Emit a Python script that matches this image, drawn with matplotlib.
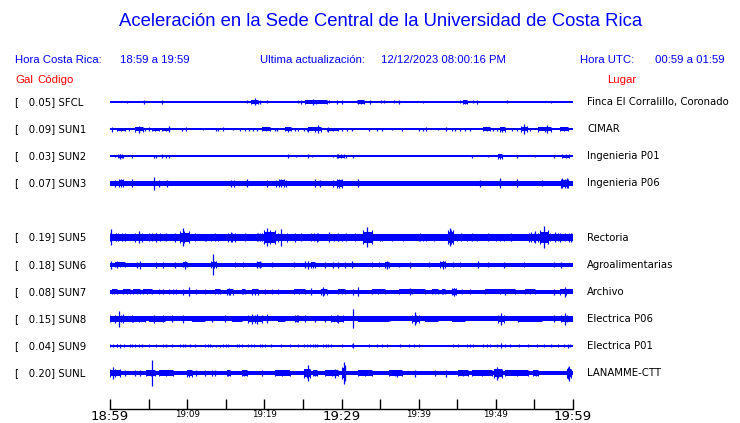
import matplotlib
matplotlib.use("Agg")
import matplotlib.pyplot as plt
from matplotlib.transforms import blended_transform_factory

# estaciones
codes = ["SFCL", "SUN1", "SUN2", "SUN3", "SUN5", "SUN6", "SUN7", "SUN8", "SUN9", "SUNL"]
gal = [0.05, 0.09, 0.03, 0.07, 0.19, 0.18, 0.08, 0.15, 0.04, 0.20]
places = ["Finca El Corralillo, Coronado", "CIMAR", "Ingenieria P01", "Ingenieria P06",
          "Rectoria", "Agroalimentarias", "Archivo", "Electrica P06", "Electrica P01",
          "LANAMME-CTT"]
rows = [0, 1, 2, 3, 5, 6, 7, 8, 9, 10]   # SUN4 no aparece
base = [0.7, 1.0, 0.7, 2.7, 3.4, 2.0, 2.0, 2.5, 0.9, 2.4]

tick_minutes = list(range(0, 61, 5))
tick_labels = ["18:59", "", "19:09", "", "19:19", "", "19:29", "", "19:39", "", "19:49", "", "19:59"]

# (minuto, amplitud) y (inicio, fin, amplitud)
sfcl_spikes = [(2.2, 1), (4.4, 2), (6.8, 2), (17.8, 1.5), (18.8, 3.5), (19.4, 2), (20.3, 1.5),
               (24.4, 1.5), (24.8, 2), (26.3, 3), (28.4, 1.5), (29.4, 2), (30.1, 2), (32.0, 1.5),
               (33.7, 2), (35.1, 1.5), (35.5, 1.5), (36.8, 1.5), (37.4, 2), (40.5, 1), (45.4, 1.5),
               (47.0, 1.5), (47.6, 2), (51.5, 1.5), (57.1, 1)]
sfcl_bursts = [(18.3, 19.2, 2), (25.3, 28.1, 2), (32.2, 32.9, 2), (45.7, 46.2, 2)]

sun1_spikes = [(0.2, 2.5), (2.4, 1.5), (3.7, 3.5), (4.5, 1.5), (5.0, 2), (7.7, 3), (9.3, 1.5),
               (9.8, 2), (12.1, 1), (13.8, 1.5), (14.0, 1.5), (14.6, 2), (15.9, 1), (16.8, 1.5),
               (17.5, 1.5), (18.0, 1.5), (18.5, 1.5), (19.1, 1.5), (21.4, 1.5), (21.7, 1.5),
               (23.1, 2.5), (24.0, 1.5), (24.4, 1.5), (25.1, 1.5), (25.5, 1.5), (27.0, 4),
               (28.2, 2.5), (30.1, 1.5), (30.7, 1.5), (31.3, 1.5), (33.5, 1.5), (34.6, 1.5),
               (35.3, 1.5), (36.5, 1), (37.8, 1.5), (40.0, 1.5), (40.6, 1.5), (41.0, 2), (42.5, 1),
               (43.6, 2), (44.3, 1.5), (44.7, 1.5), (45.4, 1.5), (46.0, 1.5), (46.7, 1.5),
               (49.6, 1.5), (50.2, 1.5), (52.1, 1.5), (52.8, 1.5), (53.6, 5), (54.4, 1.5), (56.6, 4)]
sun1_bursts = [(0.9, 1.9, 1.5), (3.2, 4.3, 2.5), (5.4, 6.3, 1.5), (6.8, 7.6, 1.5), (19.7, 20.7, 2),
               (22.7, 23.5, 2), (25.7, 27.4, 2.5), (28.1, 29.6, 1.5), (48.4, 49.2, 2),
               (50.5, 51.2, 2.5), (53.2, 54.0, 3), (55.5, 57.2, 2.5), (58.3, 59.4, 2)]

sun2_spikes = [(0.6, 1), (1.3, 2.5), (1.7, 1.5), (2.9, 1.5), (5.7, 1.5), (6.0, 1.5), (6.8, 2),
               (7.3, 1.5), (7.6, 1.5), (23.1, 2), (24.1, 1), (25.6, 2), (26.2, 1), (28.9, 1),
               (29.4, 2), (30.6, 1.5), (31.5, 1.5), (46.9, 1.5), (49.0, 1), (52.8, 1.5),
               (55.1, 1), (57.5, 1.5)]
sun2_bursts = [(1.1, 1.5, 2), (29.6, 30.3, 2), (50.3, 50.8, 2.5), (58.6, 59.5, 2)]

sun3_spikes = [(0.7, 3.5), (2.9, 4), (5.7, 6.5), (6.4, 3.5), (7.4, 3.5), (15.7, 3.5), (16.1, 3.5),
               (17.7, 4), (20.4, 3.5), (21.5, 3.5), (22.8, 3.5), (26.6, 4), (27.2, 3.5),
               (28.9, 3.5), (32.2, 4), (47.9, 3.5), (50.6, 5), (52.8, 4), (56.0, 3),
               (58.6, 5), (59.2, 5)]
sun3_bursts = [(1.2, 1.7, 4), (21.9, 22.5, 4), (29.4, 30.0, 4.5), (58.5, 59.4, 4.5)]

sun5_spikes = [(0.1, 8), (1.0, 4), (2.0, 4), (3.7, 6), (5.0, 4), (6.0, 4.5), (7.2, 4), (8.4, 4.5),
               (9.5, 9), (11.0, 4), (12.5, 3.5), (13.6, 4), (15.7, 5), (17.5, 4), (19.2, 4),
               (20.4, 9), (22.2, 8.5), (24.8, 4), (26.8, 4.5), (28.4, 5), (29.6, 4), (30.6, 4),
               (31.7, 4), (33.3, 10), (35.0, 3.5), (38.0, 3.5), (40.2, 4), (42.0, 3.5), (44.1, 9),
               (45.5, 4), (46.9, 4), (49.0, 4), (50.5, 3.5), (52.0, 4), (54.6, 5), (55.1, 6),
               (56.3, 11), (57.7, 5), (58.3, 4.5), (60.0, 5)]
sun5_bursts = [(0.0, 1.5, 4), (3.3, 4.2, 4.5), (5.5, 6.5, 4), (9.1, 10.2, 6), (12.3, 14.0, 3.5),
               (15.3, 16.2, 4.5), (19.1, 19.7, 4), (20.0, 21.4, 7), (21.8, 24.0, 4.5),
               (26.0, 27.0, 4), (29.0, 30.0, 3.5), (32.8, 33.9, 7), (34.0, 36.5, 3.5),
               (40.0, 41.0, 3.5), (43.8, 44.5, 7), (45.0, 47.5, 3.5), (50.0, 52.0, 3.5),
               (54.3, 55.5, 4.5), (55.7, 56.8, 7), (57.0, 59.0, 4), (59.5, 60.0, 4.5)]

sun6_spikes = [(0.1, 4), (0.9, 3.5), (3.5, 3), (3.9, 4), (6.0, 3), (6.9, 3), (8.4, 3), (9.7, 4),
               (13.4, 10.5), (16.2, 2.5), (17.3, 2.5), (19.1, 3.5), (19.4, 3.5), (21.0, 2.5),
               (23.8, 2.5), (25.3, 3.5), (25.7, 4), (27.9, 3), (28.9, 3), (29.6, 3), (30.5, 3),
               (31.3, 3.5), (33.9, 2.5), (34.8, 2.5), (35.9, 4), (37.4, 2), (38.9, 3), (41.3, 2.5),
               (43.2, 4), (44.5, 2.5), (45.4, 2.5), (47.7, 3.5), (49.0, 2.5), (51.0, 3),
               (53.6, 2.5), (57.5, 2.5), (58.5, 3)]
sun6_bursts = [(0.6, 1.9, 2.5), (9.5, 10.0, 2.5), (13.1, 13.8, 3.5), (19.0, 19.6, 2.5),
               (26.1, 26.6, 3), (35.6, 36.2, 3), (42.8, 43.4, 3.5)]

sun7_spikes = [(6.3, 2.5), (6.9, 2.5), (7.6, 2.5), (8.2, 2.5), (8.6, 2.5), (9.4, 3), (10.3, 4.5),
               (11.2, 2.5), (12.3, 2.5), (15.4, 3.5), (20.1, 2.5), (21.0, 2.5), (21.8, 2.5),
               (26.1, 3.5), (27.6, 4.5), (31.5, 3), (32.1, 4.5), (38.9, 3.5), (44.6, 4),
               (45.6, 2.5), (46.7, 2.5), (51.2, 3), (57.5, 3), (59.0, 5)]
sun7_bursts = [(0.2, 0.9, 2.5), (1.7, 2.6, 2.5), (3.0, 3.9, 2.5), (4.3, 5.4, 2.5), (13.6, 14.3, 2.5),
               (15.1, 16.0, 3), (17.1, 17.5, 2.5), (18.4, 19.2, 3), (23.8, 25.3, 2.5),
               (27.4, 28.1, 3), (29.6, 30.5, 2.5), (33.9, 35.6, 2.5), (37.4, 40.8, 2.5),
               (41.7, 42.5, 2.5), (43.0, 43.4, 2.5), (44.3, 44.9, 3.5), (48.6, 52.5, 2.5),
               (53.8, 55.1, 2.5), (58.3, 60.0, 3)]

sun8_spikes = [(0.6, 4), (1.2, 8), (1.7, 4.5), (5.7, 4), (6.9, 3.5), (8.0, 3.5), (9.5, 4),
               (13.2, 3), (14.9, 3.5), (18.4, 5), (19.0, 5), (20.3, 4.5), (25.3, 3.5), (26.6, 3),
               (27.9, 3), (29.6, 4), (31.5, 9.5), (36.3, 2.5), (39.5, 6.5), (50.7, 6), (52.9, 3),
               (57.5, 3.5), (59.0, 6)]
sun8_bursts = [(0.0, 2.8, 3.5), (3.0, 4.5, 3), (5.0, 7.1, 2.5), (10.6, 12.3, 2.5), (15.8, 17.1, 2.5),
               (17.9, 19.7, 4), (21.8, 22.7, 2.5), (24.0, 24.4, 3.5), (28.7, 30.2, 3.5),
               (32.2, 36.1, 2.5), (39.2, 40.0, 4), (40.8, 42.5, 2.5), (44.3, 46.0, 2.5),
               (50.3, 51.0, 4), (53.0, 56.0, 2.5), (58.5, 60.0, 3.5)]

sun9_spikes = [(1.3, 2), (4.1, 1.5), (7.3, 1.5), (8.0, 1.5), (10.4, 1.5), (11.0, 1.5), (20.9, 1.5),
               (31.5, 2.5), (33.5, 1.5), (37.6, 1.5), (44.5, 1.5), (45.1, 1.5), (50.7, 2.5),
               (55.3, 1.5), (56.2, 1.5), (57.2, 1.5), (59.4, 2)]
sun9_bursts = [(0.0, 0.9, 1.5), (0.9, 2.6, 1.5), (2.8, 3.7, 1.5), (5.0, 6.9, 1.5), (9.1, 9.7, 1.5),
               (12.3, 13.0, 1.5), (13.2, 14.2, 1), (14.7, 15.3, 1.5), (16.4, 17.1, 1.5),
               (17.9, 18.6, 1.5), (19.4, 20.1, 1.5), (22.2, 24.4, 1.5), (25.1, 25.9, 1.5),
               (26.3, 26.8, 1.5), (27.6, 28.3, 1.5), (28.7, 31.3, 1.5), (34.6, 35.9, 1.5),
               (38.7, 40.0, 1.5), (46.2, 47.1, 1.5), (48.4, 49.2, 1.5), (50.2, 51.2, 1.5),
               (51.8, 54.2, 1.5), (58.1, 59.6, 1.5)]

sunl_spikes = [(0.4, 6), (1.9, 3), (3.2, 3), (3.9, 3), (5.4, 13), (11.2, 3), (12.3, 3), (13.2, 3),
               (13.6, 3), (19.7, 3), (25.6, 8.5), (29.2, 4.5), (30.3, 11), (30.5, 8), (37.2, 3.5),
               (39.5, 3.5), (42.1, 3), (43.6, 3.5), (50.2, 6.5), (59.3, 6), (59.5, 7.5)]
sunl_bursts = [(0.0, 1.3, 4), (4.7, 5.8, 3), (6.3, 8.2, 3), (10.0, 10.6, 3.5), (15.1, 15.5, 3),
               (17.1, 17.7, 3), (21.4, 23.3, 2.5), (25.1, 25.9, 4.5), (26.3, 26.8, 3),
               (27.9, 29.6, 3), (30.1, 30.5, 6), (32.2, 33.9, 3), (36.1, 37.8, 3), (45.1, 46.4, 3),
               (46.9, 49.5, 3), (49.8, 50.8, 4.5), (51.2, 54.2, 3), (54.8, 55.5, 3),
               (59.2, 59.8, 4.5)]

spikes = [sfcl_spikes, sun1_spikes, sun2_spikes, sun3_spikes, sun5_spikes,
          sun6_spikes, sun7_spikes, sun8_spikes, sun9_spikes, sunl_spikes]
bursts = [sfcl_bursts, sun1_bursts, sun2_bursts, sun3_bursts, sun5_bursts,
          sun6_bursts, sun7_bursts, sun8_bursts, sun9_bursts, sunl_bursts]

BLUE = "#0000ff"
RED = "#ff0000"
W, H = 740, 423
ROW = 27.1  # px por fila

fig = plt.figure(figsize=(W / 100, H / 100), dpi=100)
ax = fig.add_axes([110 / W, 14 / H, 463 / W, 319 / H])
ax.set_xlim(0, 60)
ax.set_ylim((409 - 102) / ROW, (90 - 102) / ROW)

for k in range(len(codes)):
    y = rows[k]
    b = base[k] / ROW
    ax.fill_between([0, 60], y - b, y + b, color=BLUE, lw=0)
    # rafagas: nucleo un poco mas delgado que el maximo
    for t0, t1, a in bursts[k]:
        a2 = max(0.8 * a, base[k] + 0.5) / ROW
        ax.fill_between([t0, t1], y - a2, y + a2, color=BLUE, lw=0)
        ax.vlines([t0, (t0 + t1) / 2, t1], y - a / ROW, y + a / ROW, color=BLUE, lw=0.8)
    ts = [s[0] for s in spikes[k]]
    am = [s[1] / ROW for s in spikes[k]]
    ax.vlines(ts, [y - a for a in am], [y + a for a in am], color=BLUE, lw=0.9)

# etiquetas de estaciones
tr = blended_transform_factory(fig.transFigure, ax.transData)
for k in range(len(codes)):
    ax.text(15 / W, rows[k], "[   %.2f] %s" % (gal[k], codes[k]), transform=tr,
            fontsize=7.3, va="center", ha="left", color="black")
    ax.text(587 / W, rows[k], places[k], transform=tr,
            fontsize=7.3, va="center", ha="left", color="black")

# eje de tiempo
for s in ["left", "right", "top"]:
    ax.spines[s].set_visible(False)
ax.spines["bottom"].set_linewidth(1.0)
ax.set_yticks([])
ax.set_xticks(tick_minutes)
ax.set_xticklabels(tick_labels)
ax.tick_params(axis="x", direction="in", length=7.5, width=1.0, pad=0.5)
for lab in ax.get_xticklabels():
    if lab.get_text() in ("18:59", "19:29", "19:59"):
        lab.set_fontsize(9.5)
    else:
        lab.set_fontsize(6.3)

# encabezados
hf = "Liberation Sans"
fig.text(381 / W, 1 - 22 / H, "Aceleración en la Sede Central de la Universidad de Costa Rica",
         family=hf, fontsize=13.3, color=BLUE, ha="center", va="center")
fig.text(15 / W, 1 - 60 / H, "Hora Costa Rica:", family=hf, fontsize=8.2, color=BLUE, va="center")
fig.text(120 / W, 1 - 60 / H, "18:59 a 19:59", family=hf, fontsize=8.2, color=BLUE, va="center")
fig.text(260 / W, 1 - 60 / H, "Ultima actualización:", family=hf, fontsize=8.2, color=BLUE, va="center")
fig.text(381 / W, 1 - 60 / H, "12/12/2023 08:00:16 PM", family=hf, fontsize=8.2, color=BLUE, va="center")
fig.text(580 / W, 1 - 60 / H, "Hora UTC:", family=hf, fontsize=8.2, color=BLUE, va="center")
fig.text(725 / W, 1 - 60 / H, "00:59 a 01:59", family=hf, fontsize=8.2, color=BLUE, va="center", ha="right")
fig.text(15 / W, 1 - 80 / H, "Gal", family=hf, fontsize=8.2, color=RED, va="center")
fig.text(37 / W, 1 - 80 / H, "Código", family=hf, fontsize=8.2, color=RED, va="center")
fig.text(636 / W, 1 - 80 / H, "Lugar", family=hf, fontsize=8.2, color=RED, va="center", ha="right")

fig.savefig("out.png", dpi=100)
